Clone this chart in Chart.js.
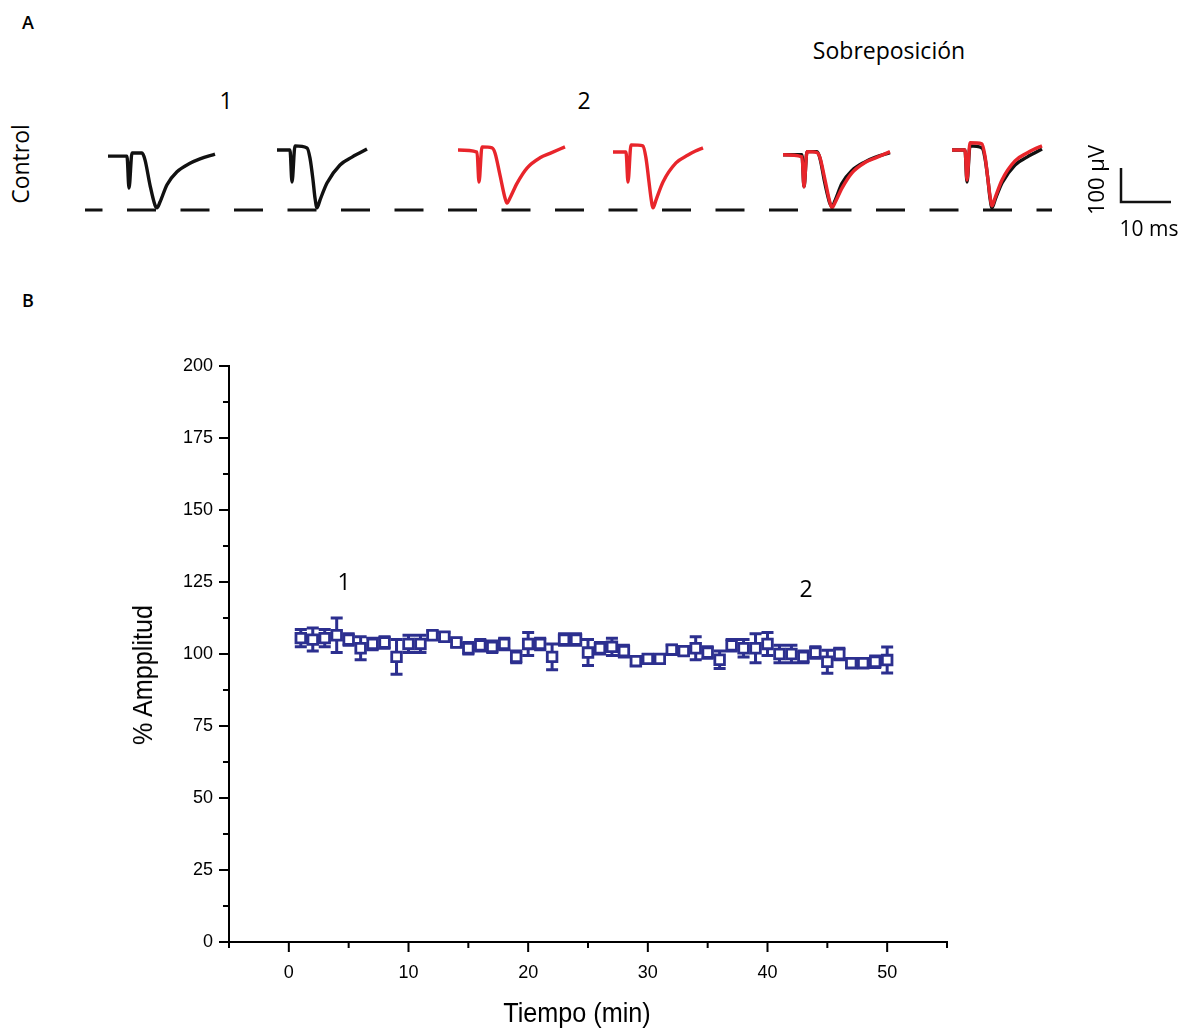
<!DOCTYPE html>
<html>
<head>
<meta charset="utf-8">
<title>Amplitud - Control</title>
<script src="https://cdn.jsdelivr.net/npm/chart.js@4.4.1/dist/chart.umd.min.js"></script>
<style>
  html, body { margin: 0; padding: 0; background: #fff; }
  #fig { position: relative; width: 1185px; height: 1028px; overflow: hidden;
         font-family: "Open Sans", "Noto Sans", sans-serif; color: #000; }
  .lbl { position: absolute; white-space: nowrap; line-height: 1; transform: translate(-50%, -50%); }
  .rot { transform: translate(-50%, -50%) rotate(-90deg); }
  .axt { font-family: "Liberation Sans", Arial, sans-serif; font-size: 28px; transform: translate(-50%, -50%) scale(0.9, 1); }
  .axt.rot { transform: translate(-50%, -50%) rotate(-90deg) scale(0.9, 1); }
  #tracesChart { position: absolute; left: 80px; top: 120px; }
  #timeChart { position: absolute; left: 0; top: 330px; }
</style>
</head>
<body>
<div id="fig">
  <canvas id="tracesChart" width="1105" height="110"></canvas>
  <canvas id="timeChart" width="1185" height="698"></canvas>

  <div class="lbl" style="left:28px;top:22px;font-size:18px;font-weight:600">A</div>
  <div class="lbl" style="left:28px;top:300px;font-size:18px;font-weight:600">B</div>
  <div class="lbl" style="left:889px;top:50px;font-size:23px">Sobreposición</div>
  <div class="lbl" style="left:226px;top:100px;font-size:23px">1</div>
  <div class="lbl" style="left:584px;top:100px;font-size:23px">2</div>
  <div class="lbl rot" style="left:20px;top:164px;font-size:23px">Control</div>
  <div class="lbl rot" style="left:1095px;top:180px;font-size:22px">100 µV</div>
  <div class="lbl" style="left:1149px;top:228px;font-size:21px">10 ms</div>

  <div class="lbl" style="left:344px;top:581px;font-size:23px">1</div>
  <div class="lbl" style="left:806px;top:588px;font-size:23px">2</div>
  <div class="lbl axt rot" style="left:143px;top:675px">% Ampplitud</div>
  <div class="lbl axt" style="left:577px;top:1013px">Tiempo (min)</div>
</div>

<script>
// ---- A: example sweeps (time in ms from sweep start, field potential in µV) ----
const sweepTimeA = [0, 3.8, 4.2, 4.8, 6.8, 7.4, 8.4, 9.4, 9.8, 10.4, 11.8, 13.8, 16.4, 18.4, 21.4];
const sweepTimeB = [0, 2.6, 3.0, 3.6, 6.0, 6.6, 7.2, 7.6, 8.0, 8.6, 10.0, 12.6, 15.0, 16.5, 18.0];
const control1 = [0, 0, -94, 9, 9, -11, -85, -144, -152, -135, -84, -46, -21, -8, 6];
const control2 = [18, 18, -76, 30, 24, -6, -70, -123, -152, -129, -79, -26, -3, 9, 21];
const late1 = [18, 12, -76, 27, 24, 9, -56, -123, -138, -123, -80, -35, -5, 8, 27];
const late2 = [12, 12, -76, 33, 30, -6, -76, -123, -152, -129, -76, -20, 3, 15, 24];
const troughLevel = -158;

// ---- B: amplitude time course (% of baseline, mean and error) ----
const minutes = [1, 2, 3, 4, 5, 6, 7, 8, 9, 10, 11, 12, 13, 14, 15, 16, 17, 18, 19, 20,
  21, 22, 23, 24, 25, 26, 27, 28, 29, 30, 31, 32, 33, 34, 35, 36, 37, 38, 39, 40,
  41, 42, 43, 44, 45, 46, 47, 48, 49, 50];
const amplitude = [105.5, 105, 105.5, 106.5, 105, 102, 103.5, 104, 99, 103.5,
  103.5, 106.5, 106, 104, 102, 103, 102.5, 103.5, 99, 103.5,
  103.5, 99, 105, 105, 100.5, 102, 102.5, 101, 97.5, 98.3,
  98.3, 101.5, 101, 102, 100.5, 98, 103, 102, 102, 103.5,
  100, 100, 99, 100.5, 97.3, 100, 96.8, 96.8, 97.3, 97.9];
const amplitudeErr = [3, 4, 3, 6, 2, 4, 2, 2, 6, 3,
  3, 1.5, 1.5, 1.5, 2, 2, 2, 2, 2, 4,
  2, 4.5, 2, 2, 4.5, 2, 3, 2, 1.5, 1.5,
  1.5, 1.5, 1.5, 4, 2, 3, 2, 3, 5, 4,
  3, 3, 2, 2, 4, 2, 1.5, 1.5, 2, 4.5];
const xTicks = [0, 10, 20, 30, 40, 50];
const xMinorTicks = [-5, 5, 15, 25, 35, 45, 55];
const yTicks = [0, 25, 50, 75, 100, 125, 150, 175, 200];
const yMinorTicks = [12.5, 37.5, 62.5, 87.5, 112.5, 137.5, 162.5, 187.5];

const BLACK = '#111111';
const RED = '#e8252b';
const BLUE = '#2c2f8f';

// place a sweep at a start time, optionally re-referenced to a baseline level
function sweep(times, values, start, level) {
  const base = level === undefined ? 0 : values[0] - level;
  return times.map((t, i) => ({ x: start + t, y: values[i] - base }));
}

function traceSet(data, color) {
  return { data, borderColor: color, borderWidth: 3.4, pointRadius: 0,
           cubicInterpolationMode: 'monotone', fill: false };
}

new Chart(document.getElementById('tracesChart'), {
  type: 'line',
  data: {
    datasets: [
      { data: [{ x: 1, y: troughLevel }, { x: 194.4, y: troughLevel }],
        borderColor: BLACK, borderWidth: 3, pointRadius: 0,
        borderDash: [29, 24.5], borderDashOffset: 11.5 },
      traceSet(sweep(sweepTimeA, control1, 5.6), BLACK),
      traceSet(sweep(sweepTimeB, control2, 39.4), BLACK),
      traceSet(sweep(sweepTimeA, late1, 75.6), RED),
      traceSet(sweep(sweepTimeB, late2, 106.6), RED),
      // superimposed sweeps: red under black
      traceSet(sweep(sweepTimeA, late1, 140.6, 4), RED),
      traceSet(sweep(sweepTimeA, control1, 140.6, 4), BLACK),
      traceSet(sweep(sweepTimeB, late2, 174.4, 18), RED),
      traceSet(sweep(sweepTimeB, control2, 174.4, 18), BLACK),
      // 10 ms / 100 µV scale bar
      { data: [{ x: 208.2, y: -35 }, { x: 208.2, y: -135 }, { x: 218.2, y: -135 }],
        borderColor: BLACK, borderWidth: 2.5, pointRadius: 0, tension: 0 }
    ]
  },
  options: {
    responsive: false,
    animation: false,
    events: [],
    layout: { padding: 0 },
    plugins: { legend: { display: false }, tooltip: { enabled: false } },
    scales: {
      x: { type: 'linear', min: 0, max: 221, display: false },
      y: { min: -217, max: 106, display: false }
    }
  }
});

// error bars under the markers
const errorBars = {
  id: 'errorBars',
  beforeDatasetsDraw(chart) {
    const { ctx, scales: { x, y } } = chart;
    ctx.save();
    ctx.strokeStyle = BLUE;
    ctx.lineWidth = 3;
    ctx.beginPath();
    minutes.forEach((m, i) => {
      const px = x.getPixelForValue(m);
      const top = y.getPixelForValue(amplitude[i] + amplitudeErr[i]);
      const bot = y.getPixelForValue(amplitude[i] - amplitudeErr[i]);
      ctx.moveTo(px, top); ctx.lineTo(px, bot);
      ctx.moveTo(px - 6, top); ctx.lineTo(px + 6, top);
      ctx.moveTo(px - 6, bot); ctx.lineTo(px + 6, bot);
    });
    ctx.stroke();
    ctx.restore();
  }
};

// outward major / minor tick marks on both axes
const axisTicks = {
  id: 'axisTicks',
  afterDraw(chart) {
    const { ctx, scales: { x, y } } = chart;
    const x0 = x.left, y0 = y.bottom;
    ctx.save();
    ctx.strokeStyle = '#000';
    ctx.lineWidth = 2;
    ctx.beginPath();
    const xt = (v, len) => { const p = x.getPixelForValue(v); ctx.moveTo(p, y0); ctx.lineTo(p, y0 + len); };
    const yt = (v, len) => { const p = y.getPixelForValue(v); ctx.moveTo(x0, p); ctx.lineTo(x0 - len, p); };
    xTicks.forEach(v => xt(v, 10));
    xMinorTicks.forEach(v => xt(v, 6));
    yTicks.forEach(v => yt(v, 10));
    yMinorTicks.forEach(v => yt(v, 6));
    ctx.stroke();
    ctx.restore();
  }
};

const tickFont = { family: '"Liberation Sans", Arial, sans-serif', size: 18 };

new Chart(document.getElementById('timeChart'), {
  type: 'line',
  data: {
    datasets: [{
      data: minutes.map((m, i) => ({ x: m, y: amplitude[i] })),
      showLine: false,
      pointStyle: 'rect',
      pointRadius: 6.8,
      pointBorderWidth: 2.8,
      pointBorderColor: BLUE,
      pointBackgroundColor: '#fff'
    }]
  },
  options: {
    responsive: false,
    animation: false,
    events: [],
    layout: { padding: { top: 36, right: 238, left: 0, bottom: 0 } },
    plugins: { legend: { display: false }, tooltip: { enabled: false } },
    scales: {
      x: {
        type: 'linear', min: -5, max: 55,
        afterBuildTicks: s => { s.ticks = xTicks.map(v => ({ value: v })); },
        afterFit: s => { s.height = 86; },
        grid: { display: false, drawTicks: false },
        border: { color: '#000', width: 2 },
        ticks: { color: '#000', font: tickFont, padding: 20, maxRotation: 0 }
      },
      y: {
        min: 0, max: 200,
        afterBuildTicks: s => { s.ticks = yTicks.map(v => ({ value: v })); },
        afterFit: s => { s.width = 229; },
        grid: { display: false, drawTicks: false },
        border: { color: '#000', width: 2 },
        ticks: { color: '#000', font: tickFont, padding: 16 }
      }
    }
  },
  plugins: [errorBars, axisTicks]
});
</script>
</body>
</html>
